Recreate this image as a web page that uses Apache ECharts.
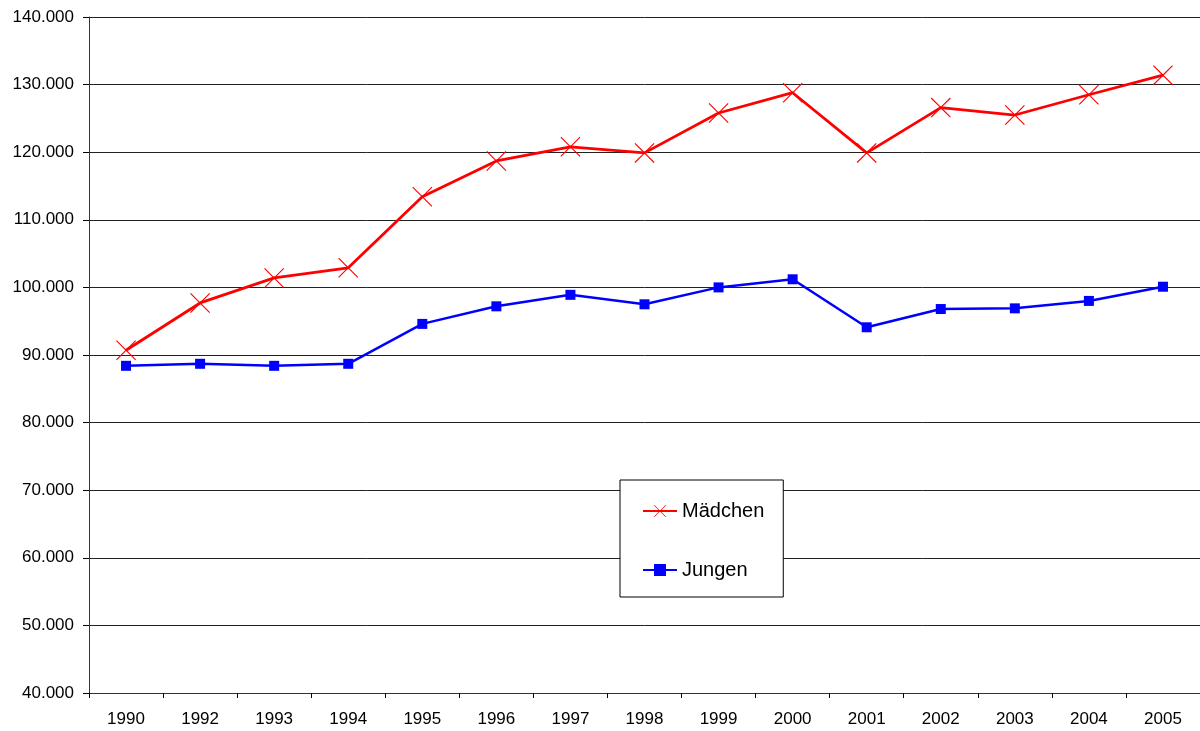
<!DOCTYPE html>
<html>
<head>
<meta charset="utf-8">
<script src="https://cdn.jsdelivr.net/npm/echarts@6/dist/echarts.min.js"></script>
<style>
  html, body { margin: 0; padding: 0; background: #fff; }
  #chart { width: 1200px; height: 731px; }
</style>
</head>
<body>
<div id="chart"></div>
<script>
// Jahre
const years = ['1990', '1992', '1993', '1994', '1995', '1996', '1997', '1998',
  '1999', '2000', '2001', '2002', '2003', '2004', '2005'];
// Mädchen
const maedchen = [90700, 97700, 101400, 102900, 113400, 118700, 120800, 119900,
  125800, 128800, 119900, 126600, 125500, 128500, 131400];
// Jungen
const jungen = [88400, 88700, 88400, 88700, 94600, 97200, 98900, 97500,
  100000, 101200, 94100, 96800, 96900, 98000, 100100];

const fontFamily = '"Liberation Sans", Arial, sans-serif';
// thin X marker
const crossPath = 'path://M0,4L4,0L50,46L96,0L100,4L54,50L100,96L96,100L50,54L4,100L0,96L46,50Z';

const fmt = v => String(v).replace(/\B(?=(\d{3})+(?!\d))/g, '.');

const chart = echarts.init(document.getElementById('chart'));
chart.setOption({
  animation: false,
  textStyle: { fontFamily: fontFamily },
  grid: { left: 89, top: 17, width: 1113, height: 676 },
  legend: {
    orient: 'vertical',
    left: 620,
    top: 480,
    padding: [21, 19, 17, 22],
    itemGap: 39,
    itemWidth: 34,
    itemHeight: 15,
    borderColor: '#000',
    borderWidth: 1,
    backgroundColor: '#fff',
    textStyle: { fontSize: 20, lineHeight: 20, color: '#000', fontFamily: fontFamily },
    data: ['Mädchen', 'Jungen']
  },
  xAxis: {
    type: 'category',
    data: years,
    boundaryGap: true,
    axisLine: { lineStyle: { color: '#333', width: 1 } },
    axisTick: { show: true, length: 5, lineStyle: { color: '#000' } },
    axisLabel: { fontSize: 17, color: '#000', margin: 18, interval: 0 },
    splitLine: { show: false }
  },
  yAxis: {
    type: 'value',
    min: 40000,
    max: 140000,
    interval: 10000,
    axisLine: { show: true, lineStyle: { color: '#333', width: 1 } },
    axisTick: { show: true, length: 6, lineStyle: { color: '#000' } },
    axisLabel: { fontSize: 17, color: '#000', margin: 15, formatter: fmt },
    splitLine: { show: true, lineStyle: { color: '#222', width: 1 } }
  },
  series: [
    {
      name: 'Mädchen',
      type: 'line',
      data: maedchen,
      symbol: crossPath,
      symbolSize: 20,
      showAllSymbol: true,
      itemStyle: { color: '#ff0000' },
      lineStyle: { color: '#ff0000', width: 2.8 },
      z: 3
    },
    {
      name: 'Jungen',
      type: 'line',
      data: jungen,
      symbol: 'rect',
      symbolSize: 10,
      showAllSymbol: true,
      itemStyle: { color: '#0000ff' },
      lineStyle: { color: '#0000ff', width: 2.5 },
      z: 2
    }
  ]
});
</script>
</body>
</html>
